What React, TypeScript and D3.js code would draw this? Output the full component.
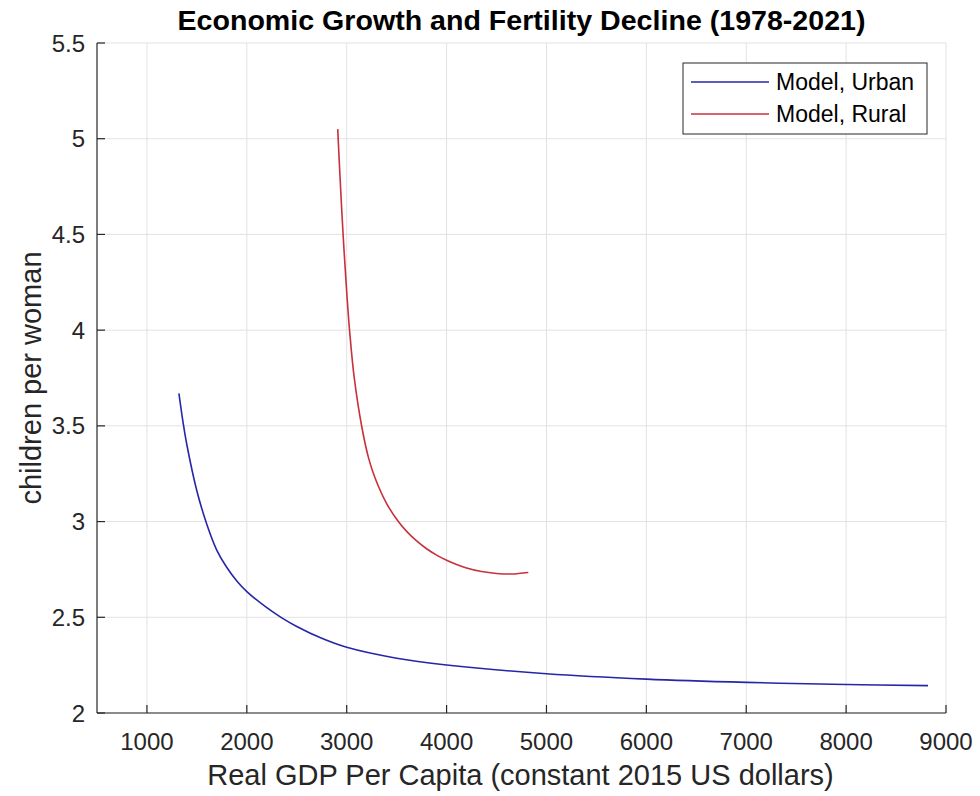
import React from "react";
import * as d3 from "d3";

const xTicks = [1000, 2000, 3000, 4000, 5000, 6000, 7000, 8000, 9000];
const yTicks = [2, 2.5, 3, 3.5, 4, 4.5, 5, 5.5];

const urbanX = [1320, 1364, 1400, 1500, 1600, 1700, 1800, 1900, 2000, 2200, 2350, 2500, 2750, 3000, 3500, 4000, 5000, 6000, 7000, 8000, 8820];
const urbanY = [3.67, 3.51, 3.4, 3.16, 2.985, 2.85, 2.76, 2.69, 2.634, 2.55, 2.497, 2.452, 2.39, 2.343, 2.286, 2.251, 2.205, 2.177, 2.16, 2.149, 2.143];

const ruralX = [2910, 2935, 2966, 3000, 3030, 3075, 3150, 3220, 3283, 3400, 3517, 3600, 3700, 3800, 3900, 4000, 4100, 4200, 4350, 4500, 4650, 4818];
const ruralY = [5.05, 4.78, 4.48, 4.2, 3.99, 3.753, 3.498, 3.33, 3.229, 3.094, 3.0, 2.949, 2.899, 2.858, 2.825, 2.798, 2.776, 2.758, 2.739, 2.729, 2.726, 2.734];

const seriesNames = ["Model, Urban", "Model, Rural"];
const seriesColors = ["#2626a8", "#c8303a"];

const W = 980, H = 796;
const L = 97, R = 946, T = 43, B = 713;
const FONT = "'Liberation Sans', Arial, Helvetica, sans-serif";

export default function App() {
  const x = d3.scaleLinear().domain([500, 9000]).range([L, R]);
  const y = d3.scaleLinear().domain([2, 5.5]).range([B, T]);
  const line = d3.line<[number, number]>().x(d => x(d[0])).y(d => y(d[1])).curve(d3.curveCatmullRom.alpha(0.5));
  const urban: [number, number][] = urbanX.map((v, i) => [v, urbanY[i]]);
  const rural: [number, number][] = ruralX.map((v, i) => [v, ruralY[i]]);
  const series = [urban, rural];

  return (
    <svg width={W} height={H} style={{ position: "absolute", left: 0, top: 0, background: "#fff" }} fontFamily={FONT}>
      <rect x={0} y={0} width={W} height={H} fill="#fff" />
      {xTicks.map(t => (
        <line key={"gx" + t} x1={x(t)} x2={x(t)} y1={T} y2={B} stroke="#e2e2e2" strokeWidth={1} />
      ))}
      {yTicks.map(t => (
        <line key={"gy" + t} x1={L} x2={R} y1={y(t)} y2={y(t)} stroke="#e2e2e2" strokeWidth={1} />
      ))}
      {series.map((s, i) => (
        <path key={i} d={line(s) || ""} fill="none" stroke={seriesColors[i]} strokeWidth={1.6} />
      ))}
      <line x1={L} x2={R} y1={B} y2={B} stroke="#262626" strokeWidth={1.2} />
      <line x1={L} x2={L} y1={T} y2={B} stroke="#262626" strokeWidth={1.2} />
      {xTicks.map(t => (
        <g key={"xt" + t}>
          <line x1={x(t)} x2={x(t)} y1={B} y2={B - 8} stroke="#262626" strokeWidth={1.2} />
          <text x={x(t)} y={B + 37} textAnchor="middle" fontSize={24} fill="#262626">{t}</text>
        </g>
      ))}
      {yTicks.map(t => (
        <g key={"yt" + t}>
          <line x1={L} x2={L + 8} y1={y(t)} y2={y(t)} stroke="#262626" strokeWidth={1.2} />
          <text x={L - 12} y={y(t) + 8.5} textAnchor="end" fontSize={24} fill="#262626">{t}</text>
        </g>
      ))}
      <text x={(L + R) / 2} y={30} textAnchor="middle" fontSize={28.5} fontWeight="bold" fill="#000" textLength={688} lengthAdjust="spacingAndGlyphs">
        Economic Growth and Fertility Decline (1978-2021)
      </text>
      <text x={(L + R) / 2 - 1} y={785} textAnchor="middle" fontSize={29} fill="#262626">
        Real GDP Per Capita (constant 2015 US dollars)
      </text>
      <text transform={`translate(41, ${(T + B) / 2}) rotate(-90)`} textAnchor="middle" fontSize={29} fill="#262626">
        children per woman
      </text>
      <rect x={683} y={63} width={244} height={71} fill="#fff" stroke="#262626" strokeWidth={1} />
      {seriesNames.map((n, i) => (
        <g key={n}>
          <line x1={691} x2={769} y1={82 + i * 32} y2={82 + i * 32} stroke={seriesColors[i]} strokeWidth={1.6} />
          <text x={776} y={90 + i * 32} fontSize={23} fill="#000">{n}</text>
        </g>
      ))}
    </svg>
  );
}
